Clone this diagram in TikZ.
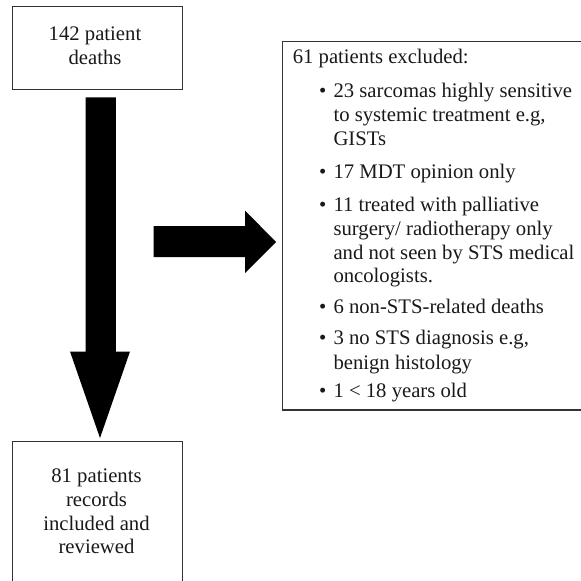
\documentclass[tikz,border=0pt]{standalone}
\usepackage{fontspec}
\setmainfont{Liberation Serif}
\begin{document}
\begin{tikzpicture}[x=1pt,y=-1pt,
  box/.style={draw=black!80, line width=1.2pt, inner sep=0pt, anchor=north west},
  openbox/.style={draw=none, inner sep=0pt, anchor=north west},
  boxline/.style={draw=black!80, line width=1.2pt},
  txt/.style={font=\fontsize{20.7}{24}\selectfont, inner sep=0pt, text=black!90},
  bul/.style={font=\fontsize{20.7}{24}\selectfont, inner sep=0pt, text=black!90, anchor=base west},
  blockarrow/.style={fill=black, draw=none}]
\useasboundingbox (0,0) rectangle (581,581);
\clip (0,0) rectangle (581,581);
% boxes
\node[box, minimum width=169.8pt, minimum height=83.5pt] (top) at (12.2,5.5) {};
\node[openbox, minimum width=169.8pt, minimum height=150pt] (bot) at (12.2,441.5) {};
\draw[boxline] (bot.south west) -- (bot.north west) -- (bot.north east) -- (bot.south east);
\node[openbox, minimum width=310pt, minimum height=368pt] (excl) at (282.6,41.5) {};
\draw[boxline] (excl.north east) -- (excl.north west) -- (excl.south west) -- (excl.south east);
% top box text
\node[txt, anchor=base] (t1) at (95,40.7) {142 patient};
\node[txt, anchor=base] (t2) at (95,64) {deaths};
% bottom box text
\node[txt, anchor=base] (b1) at (96.5,482.7) {81 patients};
\node[txt, anchor=base] (b2) at (96.5,506.3) {records};
\node[txt, anchor=base] (b3) at (96.5,530) {included and};
\node[txt, anchor=base] (b4) at (96.5,553.5) {reviewed};
% right box text
\node[txt, anchor=base west] (r0) at (292.6,63.7) {61 patients excluded:};
\node[bul] (k1) at (319,97) {•};
\node[txt, anchor=base west] (r1a) at (333.3,97) {23 sarcomas highly sensitive};
\node[txt, anchor=base west] (r1b) at (333.3,121) {to systemic treatment e.g,};
\node[txt, anchor=base west] (r1c) at (333.3,145.5) {GISTs};
\node[bul] (k2) at (319,178) {•};
\node[txt, anchor=base west] (r2) at (333.3,178) {17 MDT opinion only};
\node[bul] (k3) at (319,211.5) {•};
\node[txt, anchor=base west] (r3a) at (333.3,211.5) {11 treated with palliative};
\node[txt, anchor=base west] (r3b) at (333.3,235.3) {surgery/ radiotherapy only};
\node[txt, anchor=base west] (r3c) at (333.3,259) {and not seen by STS medical};
\node[txt, anchor=base west] (r3d) at (333.3,282.7) {oncologists.};
\node[bul] (k4) at (319,313.5) {•};
\node[txt, anchor=base west] (r4) at (333.3,313.5) {6 non-STS-related deaths};
\node[bul] (k5) at (319,344.5) {•};
\node[txt, anchor=base west] (r5a) at (333.3,344.5) {3 no STS diagnosis e.g,};
\node[txt, anchor=base west] (r5b) at (333.3,369) {benign histology};
\node[bul] (k6) at (319,397.5) {•};
\node[txt, anchor=base west] (r6) at (333.3,397.5) {1 < 18 years old};
% down block arrow (top -> bot)
\fill[blockarrow] (85.5,97.3) -- (115.8,97.3) -- (115.8,351.5) -- (130,351.5)
  -- (100,438) -- (70,351.5) -- (85.5,351.5) -- cycle;
% right block arrow (towards excl)
\fill[blockarrow] (153.5,226) -- (245,226) -- (245,210.5) -- (276,242)
  -- (245,273) -- (245,257) -- (153.5,257) -- cycle;
\end{tikzpicture}
\end{document}
